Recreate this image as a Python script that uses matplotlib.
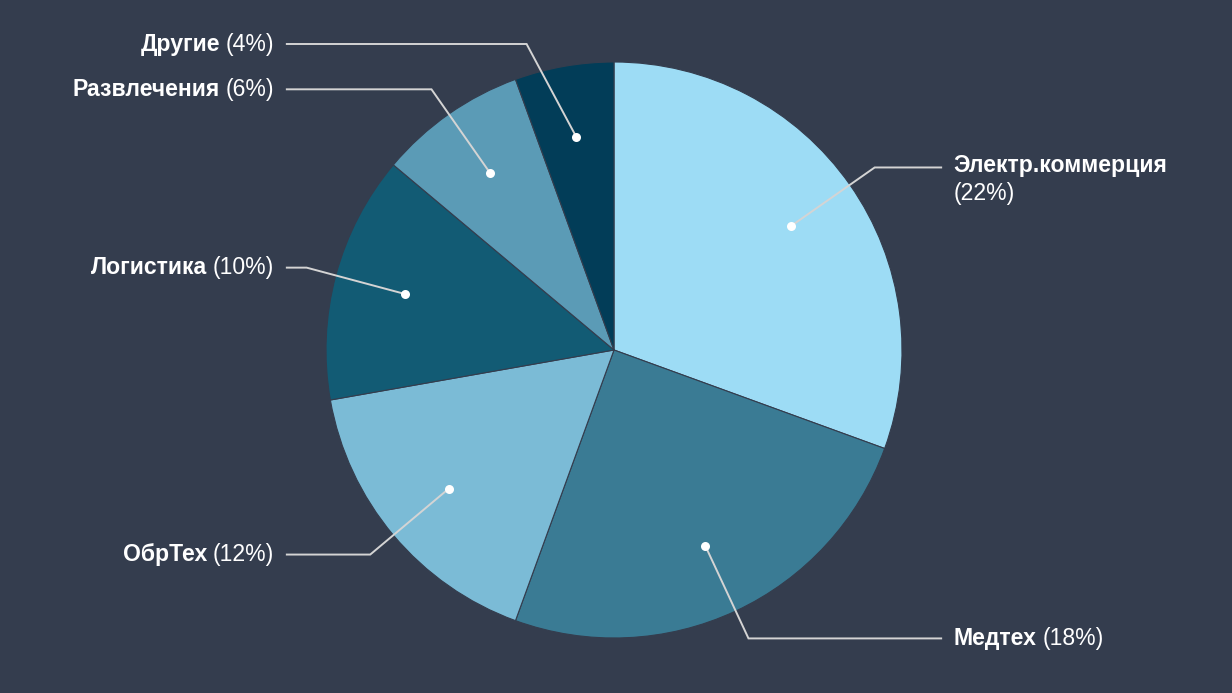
import numpy as np
import matplotlib
matplotlib.use('Agg')
import matplotlib.pyplot as plt
from matplotlib.offsetbox import TextArea, HPacker, VPacker, AnnotationBbox

plt.rcParams['font.family'] = ['Liberation Sans', 'DejaVu Sans']

# данные
labels = ['Электр.коммерция', 'Медтех', 'ОбрТех', 'Логистика', 'Развлечения', 'Другие']
values = [22, 18, 12, 10, 6, 4]
colors = ['#9ddcf5', '#3a7b94', '#7bbbd6', '#125b74', '#5b9bb6', '#023d58']

bg = '#343d4e'
W, H = 1232, 693
cx, cy, R = 614, 350, 288  # центр и радиус в пикселях

fig = plt.figure(figsize=(W / 100, H / 100), dpi=100, facecolor=bg)
ax = fig.add_axes([0, 0, 1, 1])
ax.set_facecolor(bg)

wedges, _ = ax.pie(values, colors=colors, startangle=90, counterclock=False, radius=1,
                   wedgeprops=dict(edgecolor=bg, linewidth=0.8))
ax.set_xlim(-cx / R, (W - cx) / R)
ax.set_ylim(-(H - cy) / R, cy / R)
ax.set_aspect('auto')
ax.axis('off')

r_dot = 0.75
r_elb = 1.105
y_max = 1.0625
x_line = 1.136
x_text = 1.18
fs = 16.6

for w, name, v in zip(wedges, labels, values):
    mid = np.deg2rad((w.theta1 + w.theta2) / 2)
    dx, dy = np.cos(mid), np.sin(mid)
    side = 1 if dx >= 0 else -1
    px, py = r_dot * dx, r_dot * dy
    ey = np.clip(r_elb * dy, -y_max, y_max)
    ex = side * np.sqrt(r_elb ** 2 - ey ** 2)
    ax.plot([px, ex, side * x_line], [py, ey, ey], color='#d4d4d4', lw=1.4,
            solid_joinstyle='miter', zorder=3)
    ax.plot(px, py, 'o', color='white', ms=6.5, mec='none', zorder=4)

    t_name = TextArea(name, textprops=dict(color='white', fontsize=fs, fontweight='bold'))
    t_pct = TextArea(f'({v}%)', textprops=dict(color='white', fontsize=fs))
    if name == 'Электр.коммерция':
        box = VPacker(children=[t_name, t_pct], align='left', pad=0, sep=3)
        align = (0, 0.74)
    else:
        box = HPacker(children=[t_name, t_pct], align='baseline', pad=0, sep=4)
        align = (0 if side > 0 else 1, 0.5)
    ab = AnnotationBbox(box, (side * x_text, ey), box_alignment=align,
                        frameon=False, pad=0, xycoords='data')
    ax.add_artist(ab)

fig.savefig('out.png', dpi=100, facecolor=bg)
